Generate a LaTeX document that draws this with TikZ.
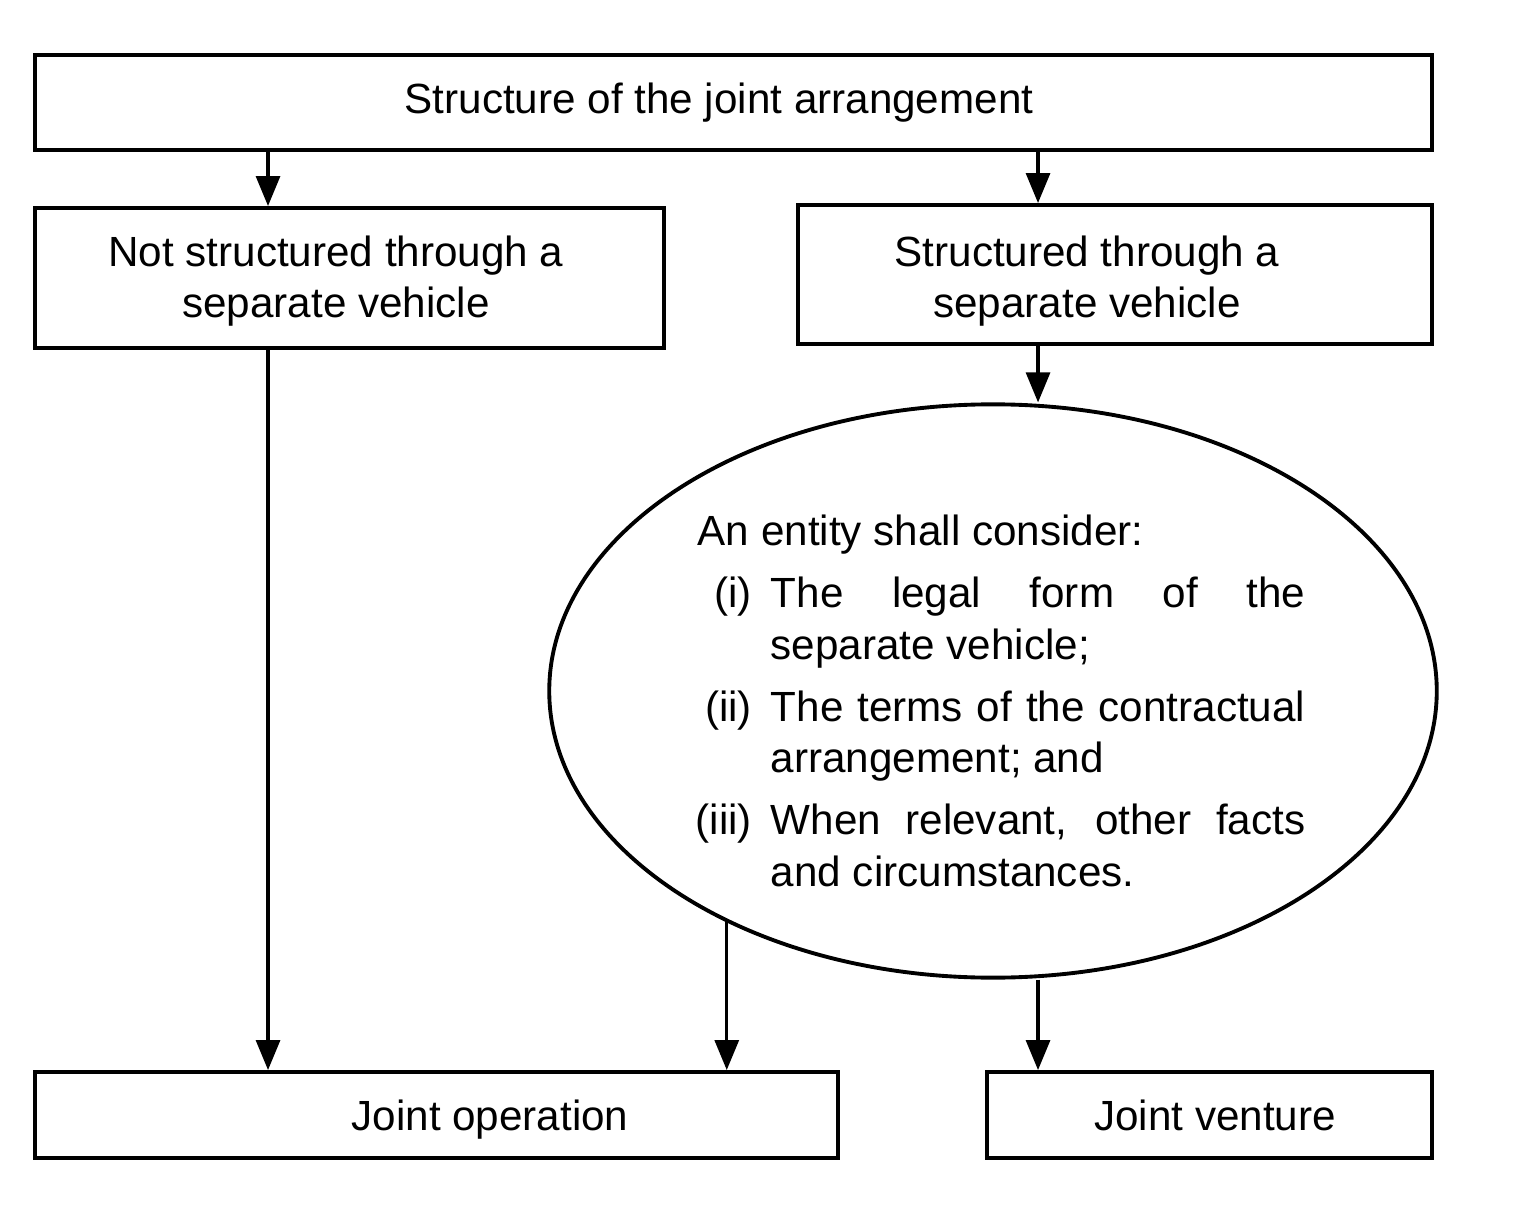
\documentclass[tikz,border=0pt]{standalone}
\usepackage{fontspec}
\setmainfont{Liberation Sans}
\usetikzlibrary{arrows.meta,shapes.geometric}
\tikzstyle{box} = [draw, line width=1.1pt, inner sep=0pt, align=center]
\tikzstyle{oval} = [draw, ellipse, line width=1.1pt, inner sep=0pt]
\tikzstyle{flow} = [line width=0.9pt, -{Triangle[length=0.3cm,width=0.24cm]}]

\begin{document}
\begin{tikzpicture}[x=0.01cm,y=-0.01cm,every node/.style={font=\fontsize{12pt}{14.5pt}\selectfont}]
    \useasboundingbox (0,0) rectangle (1540,1216);
    \node[box,minimum width=13.97cm,minimum height=0.95cm] (structure) at (733.5,102.5)
        {Structure of the joint arrangement\hspace*{0.29cm}};
    \node[box,minimum width=6.29cm,minimum height=1.40cm,text height=24.5pt,text depth=2pt] (notsep) at (349.5,278)
        {Not structured through a\hspace*{0.27cm}\\separate vehicle\hspace*{0.27cm}};
    \node[box,minimum width=6.34cm,minimum height=1.39cm,text height=26.7pt,text depth=2pt] (sep) at (1115,274.5)
        {Structured through a\hspace*{0.56cm}\\separate vehicle\hspace*{0.56cm}};
    \node[oval,minimum width=8.87cm,minimum height=5.73cm] (consider) at (993,691) {};
    \node[inner sep=0pt] (considertext) at (1001.5,701) {\parbox{6.07cm}{%
        \fontsize{12pt}{14.74pt}\selectfont
        \setlength{\parskip}{2.8pt}\setlength{\parindent}{0pt}%
        \spaceskip=0.278em plus 2em minus 0.1em
        An entity shall consider:\par
        \hangindent=0.73cm\hangafter=1
        \makebox[0.73cm][r]{(i)\hspace{0.19cm}}The legal form of the separate vehicle;\par
        \hangindent=0.73cm\hangafter=1
        \makebox[0.73cm][r]{(ii)\hspace{0.19cm}}The terms of the contractual arrangement; and\par
        \hangindent=0.73cm\hangafter=1
        \makebox[0.73cm][r]{(iii)\hspace{0.19cm}}When relevant, other facts and circumstances.}};
    \node[box,minimum width=8.03cm,minimum height=0.86cm,text height=11pt,text depth=2pt] (jointop) at (436.5,1115)
        {\hspace*{1.07cm}Joint operation};
    \node[box,minimum width=4.45cm,minimum height=0.86cm,text height=11pt,text depth=2pt] (jointven) at (1209.5,1115)
        {\hspace*{0.11cm}Joint venture};

    % arrow columns
    \coordinate (leftcol) at ([xshift=2.35cm]notsep.south west);
    \coordinate (rightcol) at ([xshift=2.42cm]sep.south west);
    \draw[flow] (structure.south -| leftcol) -- (notsep.north -| leftcol);
    \draw[flow] (structure.south -| rightcol) -- (sep.north -| rightcol);
    \draw[flow] (sep.south -| rightcol) -- (consider.north -| rightcol);
    \draw[flow] (notsep.south -| leftcol) -- (jointop.north -| leftcol);
    \draw[flow] (consider.221.7) -- (consider.221.7 |- jointop.north);
    \draw[flow] (consider.south -| rightcol) -- (jointven.north -| rightcol);
\end{tikzpicture}
\end{document}
